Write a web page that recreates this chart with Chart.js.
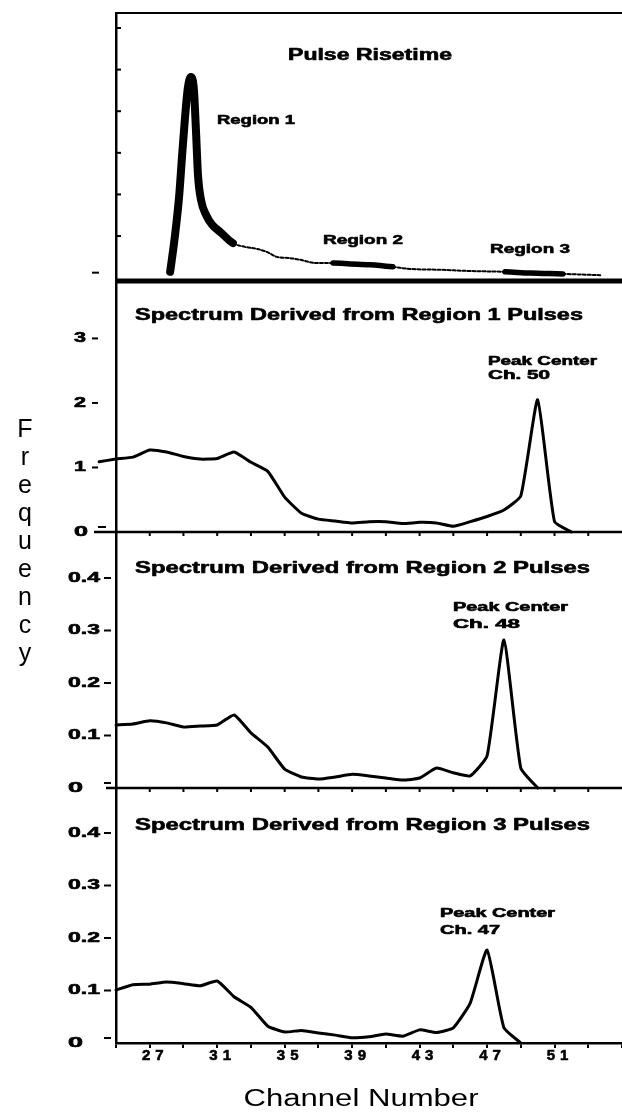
<!DOCTYPE html>
<html>
<head>
<meta charset="utf-8">
<script src="https://cdn.jsdelivr.net/npm/chart.js@4.4.1/dist/chart.umd.min.js"></script>
<style>
html,body{margin:0;padding:0;background:#fff;}
#wrap{position:relative;width:622px;height:1119px;}
</style>
</head>
<body>
<div id="wrap"><canvas id="c"></canvas></div>
<script>
// ---------- DATA ----------
// Top panel: pulse risetime distribution (arbitrary risetime units, arbitrary counts)
const risetime = [10.7, 11.3, 11.9, 12.5, 13.0, 13.6, 14.2, 14.8, 15.4, 15.8, 16.2, 16.8, 17.8, 19.0, 20.6, 23.1, 25.5, 27.9, 29.8, 31.8, 34.4, 36.4, 39.7, 42.9, 46.3, 50.2, 54.7, 58.1, 64.0, 70.0, 76.9, 81.8, 88.3, 95.7];
const risetimeCounts = [0.14, 0.67, 1.27, 1.99, 2.83, 3.79, 4.56, 4.82, 4.51, 3.55, 2.47, 1.87, 1.51, 1.27, 1.10, 0.83, 0.74, 0.69, 0.62, 0.50, 0.47, 0.43, 0.35, 0.35, 0.33, 0.31, 0.26, 0.21, 0.19, 0.16, 0.14, 0.11, 0.09, 0.06];
const riseTicks = [0, 1, 2, 3, 4, 5, 6];

// Spectrum from Region 1 pulses
const channelsR1 = [24,25,26,27,28,29,30,31,32,33,34,35,36,37,38,39,40,41,42,43,44,45,46,47,48,49,50,51,52];
const freqR1 = [1.09,1.13,1.16,1.27,1.24,1.17,1.13,1.14,1.24,1.08,0.94,0.54,0.29,0.20,0.17,0.14,0.16,0.16,0.13,0.15,0.14,0.09,0.16,0.24,0.34,0.56,2.05,0.16,0.00];

// Spectrum from Region 2 pulses
const channelsR2 = [25,26,27,28,29,30,31,32,33,34,35,36,37,38,39,40,41,42,43,44,45,46,47,48,49,50];
const freqR2 = [0.120,0.122,0.128,0.124,0.116,0.118,0.120,0.139,0.105,0.078,0.036,0.021,0.017,0.021,0.026,0.023,0.019,0.015,0.019,0.038,0.029,0.023,0.061,0.282,0.038,0.000];

// Spectrum from Region 3 pulses
const channelsR3 = [25,26,27,28,29,30,31,32,33,34,35,36,37,38,39,40,41,42,43,44,45,46,47,48,49];
const freqR3 = [0.101,0.111,0.112,0.116,0.113,0.109,0.118,0.088,0.068,0.032,0.021,0.024,0.019,0.015,0.010,0.012,0.017,0.013,0.025,0.020,0.029,0.076,0.177,0.029,0.000];

// Tick labels
const xTickValues = [27, 31, 35, 39, 43, 47, 51];
const xTickLabels = ['27', '31', '35', '39', '43', '47', '51'];
const yTicksR1 = [0, 1, 2, 3];
const yLabelsR1 = ['0', '1', '2', '3'];
const yTicksR23 = [0, 0.1, 0.2, 0.3, 0.4];
const yLabelsR23 = ['0', '0.1', '0.2', '0.3', '0.4'];

// Texts
const panelTitles = ['Pulse Risetime', 'Spectrum Derived from Region 1 Pulses', 'Spectrum Derived from Region 2 Pulses', 'Spectrum Derived from Region 3 Pulses'];
const regionLabels = ['Region 1', 'Region 2', 'Region 3'];
const peakTitle = 'Peak Center';
const peakChannels = ['Ch. 50', 'Ch. 48', 'Ch. 47'];
const xTitle = 'Channel Number';
const yTitle = 'Frequency';

// ---------- STYLE ----------
const INK = '#000';
const FONT = '"Liberation Sans", Arial, sans-serif';
const bands = [{from: 10, to: 23.5, w: 8}, {from: 43, to: 55.5, w: 5.5}, {from: 77, to: 88.5, w: 5.5}];
function bandWidth(c) {
  const xm = (c.p0.parsed.x + c.p1.parsed.x) / 2;
  for (const b of bands) if (xm >= b.from && xm <= b.to) return b.w;
  return 0;
}

function pts(xs, ys) { return xs.map((x, i) => ({x: x, y: ys[i]})); }

function drawText(ctx, s, x, y, o) {
  ctx.save();
  ctx.font = o.font;
  ctx.fillStyle = INK;
  ctx.strokeStyle = INK;
  ctx.textBaseline = o.baseline || 'alphabetic';
  ctx.textAlign = 'left';
  const sp = o.spacing || 0;
  if (sp && 'letterSpacing' in ctx) ctx.letterSpacing = sp + 'px';
  let w = ctx.measureText(s).width;
  if (sp && 'letterSpacing' in ctx) w -= sp;
  const sx = o.width ? o.width / w : 1;
  const left = o.align === 'center' ? x - w * sx / 2 : (o.align === 'right' ? x - w * sx : x);
  ctx.translate(left, y);
  ctx.scale(sx, 1);
  ctx.fillText(s, 0, 0);
  if (o.heavy) { ctx.lineWidth = o.heavy; ctx.lineJoin = 'round'; ctx.strokeText(s, 0, 0); }
  ctx.restore();
}
function hline(ctx, x1, x2, y, w) {
  ctx.save(); ctx.strokeStyle = INK; ctx.lineWidth = w; ctx.beginPath();
  ctx.moveTo(x1, y); ctx.lineTo(x2, y); ctx.stroke(); ctx.restore();
}
function vline(ctx, x, y1, y2, w) {
  ctx.save(); ctx.strokeStyle = INK; ctx.lineWidth = w; ctx.beginPath();
  ctx.moveTo(x, y1); ctx.lineTo(x, y2); ctx.stroke(); ctx.restore();
}

const decor = {
  id: 'decor',
  afterDraw(chart) {
    const ctx = chart.ctx;
    const s = chart.scales;
    const L = chart.chartArea.left, R = chart.chartArea.right;
    // frame of the risetime panel
    hline(ctx, L - 1, R, s.y0.top, 2);
    hline(ctx, L - 1, R, s.y0.bottom, 5);
    // inner ticks of risetime panel
    riseTicks.forEach(v => {
      const py = s.y0.getPixelForValue(v);
      if (v === 0) hline(ctx, 92, 99, py - 5, 2);
      else hline(ctx, L, L + 5, py, 2);
    });
    // separators between spectrum panels with channel ticks
    [[s.y1, 94], [s.y2, 106]].forEach(([sc, x0]) => {
      hline(ctx, x0, R, sc.bottom, 2.5);
    });
    [s.y1, s.y2].forEach(sc => {
      s.x.ticks.forEach(t => {
        const px = s.x.getPixelForValue(t.value);
        if (px > L + 2 && px < R) vline(ctx, px, sc.bottom, sc.bottom + 4, 2);
      });
    });
    const H = 0.6;
    // y tick labels
    yTicksR1.forEach((v, i) => {
      const py = s.y1.getPixelForValue(v);
      drawText(ctx, yLabelsR1[i], 74, py, {font: 'bold 14px ' + FONT, baseline: 'middle', width: v === 0 ? 14 : 12, heavy: H});
      hline(ctx, v === 0 ? 98 : 92, v === 0 ? 106 : 98, v === 0 ? py - 5 : py, 2);
    });
    [s.y2, s.y3].forEach(sc => {
      yTicksR23.forEach((v, i) => {
        const py = sc.getPixelForValue(v);
        drawText(ctx, yLabelsR23[i], 68, py, {font: 'bold 14px ' + FONT, baseline: 'middle', width: v === 0 ? 15 : 32, heavy: H});
        hline(ctx, 104, 111, v === 0 ? py - 5 : py, 2);
      });
    });
    // x tick labels
    xTickValues.forEach((v, i) => {
      const px = s.x.getPixelForValue(v) + 3;
      drawText(ctx, xTickLabels[i], px, 1060, {font: 'bold 15px ' + FONT, align: 'center', spacing: 5, heavy: H});
    });
    // panel titles
    drawText(ctx, panelTitles[0], 288, 60, {font: 'bold 16px ' + FONT, width: 164, heavy: H});
    drawText(ctx, panelTitles[1], 135, 320, {font: 'bold 17px ' + FONT, width: 448, heavy: H});
    drawText(ctx, panelTitles[2], 135, 573, {font: 'bold 17px ' + FONT, width: 455, heavy: H});
    drawText(ctx, panelTitles[3], 135, 830, {font: 'bold 17px ' + FONT, width: 455, heavy: H});
    // region labels
    drawText(ctx, regionLabels[0], 217, 124, {font: 'bold 13px ' + FONT, width: 78, heavy: H});
    drawText(ctx, regionLabels[1], 323, 244, {font: 'bold 13px ' + FONT, width: 80, heavy: H});
    drawText(ctx, regionLabels[2], 490, 253, {font: 'bold 13px ' + FONT, width: 80, heavy: H});
    // peak labels
    const pk = [[488, 365, 379, 109, 62], [453, 611, 628, 115, 67], [440, 917, 934, 115, 60]];
    pk.forEach((p, i) => {
      drawText(ctx, peakTitle, p[0], p[1], {font: 'bold 12px ' + FONT, width: p[3], heavy: H});
      drawText(ctx, peakChannels[i], p[0], p[2], {font: 'bold 12px ' + FONT, width: p[4], heavy: H});
    });
    // axis titles
    drawText(ctx, xTitle, 361, 1106, {font: '23px ' + FONT, align: 'center', width: 235});
    const letters = Array.from(yTitle);
    letters.forEach((ch, i) => {
      drawText(ctx, ch, 25, 437 + 28 * i, {font: '25px ' + FONT, align: 'center'});
    });
  }
};

const yCommon = {
  type: 'linear', position: 'left', stack: 'panels',
  grid: {display: false}, ticks: {display: false},
  border: {display: true, width: 2.5, color: INK},
  afterFit: sc => { sc.width = 116; }
};

const spectrumStyle = {
  borderColor: INK, borderWidth: 3, pointRadius: 0, tension: 0.15,
  borderJoinStyle: 'round', borderCapStyle: 'round', clip: false
};

new Chart(document.getElementById('c'), {
  type: 'line',
  data: {
    datasets: [
      {
        data: pts(risetime, risetimeCounts), xAxisID: 'xr', yAxisID: 'y0',
        borderColor: INK, borderWidth: 2, pointRadius: 0, cubicInterpolationMode: 'monotone',
        borderCapStyle: 'round', borderJoinStyle: 'round',
        segment: {
          borderWidth: c => bandWidth(c) || 2,
          borderDash: c => bandWidth(c) ? [] : [3, 2]
        }
      },
      Object.assign({data: pts(channelsR1, freqR1), xAxisID: 'x', yAxisID: 'y1'}, spectrumStyle),
      Object.assign({data: pts(channelsR2, freqR2), xAxisID: 'x', yAxisID: 'y2'}, spectrumStyle),
      Object.assign({data: pts(channelsR3, freqR3), xAxisID: 'x', yAxisID: 'y3'}, spectrumStyle)
    ]
  },
  options: {
    responsive: true, maintainAspectRatio: false, animation: false,
    layout: {padding: {top: 13, left: 0, right: 0, bottom: 0}},
    plugins: {legend: {display: false}, tooltip: {enabled: false}},
    events: [],
    scales: {
      x: {
        type: 'linear', position: 'bottom', min: 25, max: 55,
        ticks: {display: false, stepSize: 2},
        grid: {display: true, drawOnChartArea: false, drawTicks: true, tickLength: 5, color: INK, lineWidth: 2},
        border: {display: true, width: 2.5, color: INK},
        afterFit: sc => { sc.height = 76; }
      },
      xr: {type: 'linear', display: false, min: 0, max: 100},
      y3: Object.assign({}, yCommon, {stackWeight: 255, min: 0, max: 0.4857}),
      y2: Object.assign({}, yCommon, {stackWeight: 256, min: 0, max: 0.4876}),
      y1: Object.assign({}, yCommon, {stackWeight: 251, min: 0, max: 3.89}),
      y0: Object.assign({}, yCommon, {stackWeight: 268, min: -0.08, max: 6.36})
    }
  },
  plugins: [decor]
});
</script>
</body>
</html>
